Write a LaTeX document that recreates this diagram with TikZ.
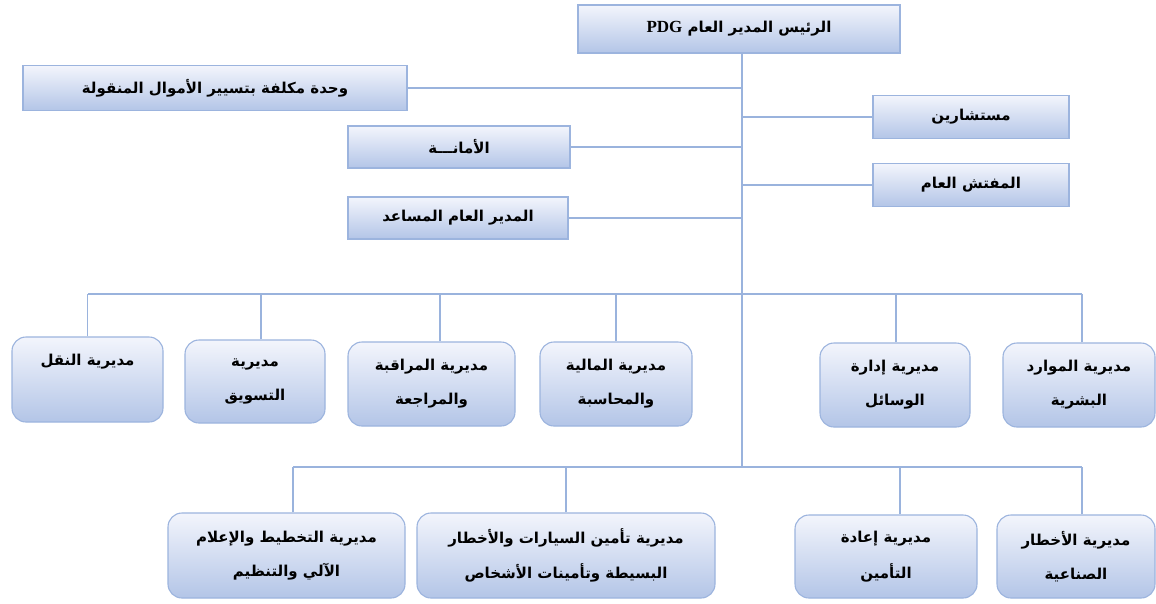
\documentclass[tikz,border=0pt]{standalone}
\usepackage{fontspec}
\newfontfamily\arabicfont[Script=Arabic]{DejaVu Sans}
\newfontfamily\latinserif{Liberation Serif}
\TeXXeTstate=1
\usetikzlibrary{calc}
\definecolor{boxborder}{HTML}{9CB4DE}
\definecolor{boxtop}{HTML}{F3F5FC}
\definecolor{boxbot}{HTML}{B3C5E7}
\definecolor{linkcol}{HTML}{9AB3DD}
\newcommand{\artxt}[1]{\beginR #1\endR}
\begin{document}
\begin{tikzpicture}[x=1pt,y=-1pt,
  box/.style={draw=boxborder, line width=1.1pt, top color=boxtop, bottom color=boxbot,
    inner sep=0pt, align=center, font=\arabicfont\bfseries\fontsize{15}{18}\selectfont},
  sqbox/.style={box, minimum width=#1, minimum height=43pt},
  rbox/.style={box, rounded corners=14pt, minimum width=#1, minimum height=84pt},
  link/.style={draw=linkcol, line width=1.3pt}
]
\useasboundingbox[fill=white] (0,0) rectangle (1156,603);

% top
\node[box, minimum width=322pt, minimum height=48pt] (pdg) at (739,29)
  {\beginR الرئيس المدير العام \beginL{\latinserif\bfseries\fontsize{17}{19}\selectfont PDG}\endL{}\endR};

% side boxes
\node[sqbox=384pt, minimum height=45pt] (unit) at (215,88) {\artxt{وحدة مكلفة بتسيير الأموال المنقولة}};
\node[sqbox=222pt, minimum height=42pt] (amana) at (459,147) {\artxt{الأمانـــة}};
\node[sqbox=220pt, minimum height=42pt] (assist) at (458,218) {\artxt{المدير العام المساعد}};
\node[sqbox=196pt] (mustashar) at (971,117) {\artxt{مستشارين}};
\node[sqbox=196pt] (mufattish) at (971,185) {\artxt{المفتش العام}};

% row 1
\node[rbox=151pt, minimum height=85pt] (naql) at (87.5,379.5) {\artxt{مديرية النقل}\\[16pt]\strut};
\node[rbox=140pt, minimum height=83pt] (taswiq) at (255,381.5) {\artxt{مديرية}\\[16pt]\artxt{التسويق}};
\node[rbox=167pt] (muraqaba) at (431.5,384) {\artxt{مديرية المراقبة}\\[16pt]\artxt{والمراجعة}};
\node[rbox=152pt] (maliya) at (616,384) {\artxt{مديرية المالية}\\[16pt]\artxt{والمحاسبة}};
\node[rbox=150pt] (wasail) at (895,385) {\artxt{مديرية إدارة}\\[16pt]\artxt{الوسائل}};
\node[rbox=152pt] (mawarid) at (1079,385) {\artxt{مديرية الموارد}\\[16pt]\artxt{البشرية}};

% row 2
\node[rbox=237pt, minimum height=85pt] (takhtit) at (286.5,555.5) {\artxt{مديرية التخطيط والإعلام}\\[16pt]\artxt{الآلي والتنظيم}};
\node[rbox=298pt, minimum height=85pt] (tamin) at (566,555.5) {\artxt{مديرية تأمين السيارات والأخطار}\\[16pt]\artxt{البسيطة وتأمينات الأشخاص}};
\node[rbox=182pt, minimum height=83pt] (iada) at (886,556.5) {\artxt{مديرية إعادة}\\[16pt]\artxt{التأمين}};
\node[rbox=158pt, minimum height=83pt] (akhtar) at (1076,556.5) {\artxt{مديرية الأخطار}\\[16pt]\artxt{الصناعية}};

% connector coordinates
\coordinate (trunkbot) at (742,467);
\coordinate (bus1L) at (88,294);
\coordinate (bus1R) at (1082,294);
\coordinate (bus2L) at (293,467);
\coordinate (bus2R) at (1082,467);

% trunk and side branches
\draw[link] (pdg.south -| trunkbot) -- (trunkbot);
\draw[link] (unit.east) -- (unit.east -| trunkbot);
\draw[link] (amana.east) -- (amana.east -| trunkbot);
\draw[link] (assist.east) -- (assist.east -| trunkbot);
\draw[link] (mustashar.west) -- (mustashar.west -| trunkbot);
\draw[link] (mufattish.west) -- (mufattish.west -| trunkbot);

% row 1 bus and drops
\draw[link] (bus1L) -- (bus1R);
\draw[link] (naql.north) -- (naql.north |- bus1L);
\draw[link] ([xshift=6pt]taswiq.north) -- ([xshift=6pt]taswiq.north |- bus1L);
\draw[link] ([xshift=8.5pt]muraqaba.north) -- ([xshift=8.5pt]muraqaba.north |- bus1L);
\draw[link] (maliya.north) -- (maliya.north |- bus1L);
\draw[link] ([xshift=1pt]wasail.north) -- ([xshift=1pt]wasail.north |- bus1L);
\draw[link] ([xshift=3pt]mawarid.north) -- ([xshift=3pt]mawarid.north |- bus1L);

% row 2 bus and drops
\draw[link] (bus2L) -- (bus2R);
\draw[link] ([xshift=6.5pt]takhtit.north) -- ([xshift=6.5pt]takhtit.north |- bus2L);
\draw[link] (tamin.north) -- (tamin.north |- bus2L);
\draw[link] ([xshift=14pt]iada.north) -- ([xshift=14pt]iada.north |- bus2L);
\draw[link] ([xshift=6pt]akhtar.north) -- ([xshift=6pt]akhtar.north |- bus2L);
\end{tikzpicture}
\end{document}
